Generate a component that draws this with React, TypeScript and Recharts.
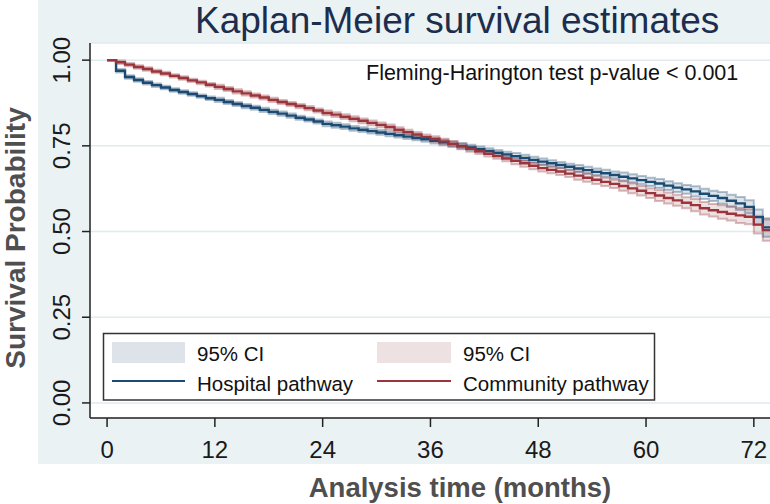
import React from "react";
import {
  ComposedChart,
  Area,
  Line,
  XAxis,
  YAxis,
  CartesianGrid,
} from "recharts";

const FONT = "'Liberation Sans', Arial, Helvetica, sans-serif";

// analysis time in months (last entry = end of follow-up at right edge)
const months = [
  0, 1, 2, 3, 4, 5, 6, 7, 8, 9, 10, 11, 12, 13, 14, 15, 16, 17, 18, 19, 20,
  21, 22, 23, 24, 25, 26, 27, 28, 29, 30, 31, 32, 33, 34, 35, 36, 37, 38, 39,
  40, 41, 42, 43, 44, 45, 46, 47, 48, 49, 50, 51, 52, 53, 54, 55, 56, 57, 58,
  59, 60, 61, 62, 63, 64, 65, 66, 67, 68, 69, 70, 71, 72, 73, 73.8,
];

// KM survival estimates
const hospital = [
  1.0, 0.969, 0.951, 0.942, 0.934, 0.927, 0.92, 0.913, 0.907, 0.901,
  0.895, 0.889, 0.884, 0.878, 0.872, 0.866, 0.861, 0.855, 0.849, 0.844,
  0.838, 0.832, 0.827, 0.821, 0.814, 0.81, 0.806, 0.801, 0.797, 0.793,
  0.789, 0.785, 0.781, 0.777, 0.773, 0.769, 0.765, 0.76, 0.755, 0.75,
  0.745, 0.74, 0.735, 0.73, 0.725, 0.72, 0.715, 0.709, 0.704, 0.699,
  0.694, 0.689, 0.684, 0.679, 0.674, 0.67, 0.665, 0.66, 0.655, 0.65,
  0.645, 0.64, 0.634, 0.628, 0.623, 0.617, 0.61, 0.604, 0.598, 0.59,
  0.582, 0.572, 0.542, 0.512, 0.512,
];

const community = [
  1.0, 0.994, 0.987, 0.98, 0.974, 0.967, 0.961, 0.954, 0.948, 0.941,
  0.935, 0.928, 0.922, 0.916, 0.909, 0.903, 0.897, 0.891, 0.884, 0.878,
  0.872, 0.866, 0.86, 0.853, 0.846, 0.841, 0.835, 0.829, 0.823, 0.817,
  0.811, 0.805, 0.797, 0.79, 0.783, 0.776, 0.77, 0.763, 0.756, 0.748,
  0.741, 0.734, 0.727, 0.72, 0.713, 0.706, 0.699, 0.692, 0.685, 0.68,
  0.675, 0.669, 0.663, 0.657, 0.651, 0.645, 0.639, 0.633, 0.626, 0.619,
  0.612, 0.605, 0.598, 0.591, 0.584, 0.577, 0.568, 0.562, 0.557, 0.552,
  0.547, 0.543, 0.52, 0.504, 0.504,
];

// half-width of the 95% CI bands
const hospitalCI = [
  0.0, 0.005, 0.005, 0.005, 0.005, 0.005, 0.005, 0.005, 0.005, 0.005,
  0.005, 0.005, 0.006, 0.006, 0.006, 0.006, 0.006, 0.006, 0.006, 0.006,
  0.006, 0.006, 0.006, 0.006, 0.007, 0.007, 0.007, 0.007, 0.007, 0.007,
  0.007, 0.007, 0.007, 0.007, 0.007, 0.007, 0.008, 0.008, 0.008, 0.008,
  0.008, 0.008, 0.008, 0.008, 0.008, 0.009, 0.009, 0.009, 0.009, 0.009,
  0.009, 0.009, 0.01, 0.01, 0.01, 0.01, 0.01, 0.012, 0.012, 0.012,
  0.012, 0.013, 0.013, 0.013, 0.013, 0.015, 0.015, 0.015, 0.017, 0.017,
  0.019, 0.019, 0.022, 0.027, 0.027,
];

const communityCI = [
  0.0, 0.005, 0.005, 0.005, 0.005, 0.005, 0.005, 0.005, 0.005, 0.005,
  0.005, 0.005, 0.006, 0.006, 0.006, 0.006, 0.006, 0.006, 0.006, 0.006,
  0.006, 0.006, 0.006, 0.006, 0.007, 0.007, 0.007, 0.007, 0.007, 0.007,
  0.007, 0.007, 0.007, 0.007, 0.007, 0.007, 0.008, 0.008, 0.008, 0.008,
  0.008, 0.008, 0.008, 0.008, 0.008, 0.01, 0.01, 0.01, 0.01, 0.01,
  0.01, 0.01, 0.012, 0.012, 0.012, 0.012, 0.012, 0.014, 0.014, 0.014,
  0.014, 0.016, 0.016, 0.016, 0.016, 0.018, 0.018, 0.018, 0.02, 0.02,
  0.022, 0.022, 0.026, 0.031, 0.031,
];

const xTicks = [0, 12, 24, 36, 48, 60, 72];
const yTicks = [0, 0.25, 0.5, 0.75, 1];

const NAVY = "#1b4a72";
const MAROON = "#9c353b";
const NAVY_BAND = "rgba(26,71,111,0.15)";
const MAROON_BAND = "rgba(144,53,59,0.15)";
const NAVY_EDGE = "rgba(26,71,111,0.33)";
const MAROON_EDGE = "rgba(144,53,59,0.33)";

const rows = months.map((t, i) => ({
  t,
  hosp: hospital[i],
  hospLo: hospital[i] - hospitalCI[i],
  hospHi: hospital[i] + hospitalCI[i],
  hospBand: [hospital[i] - hospitalCI[i], hospital[i] + hospitalCI[i]],
  comm: community[i],
  commLo: community[i] - communityCI[i],
  commHi: community[i] + communityCI[i],
  commBand: [community[i] - communityCI[i], community[i] + communityCI[i]],
}));

function YTick(props: any) {
  const { y, payload } = props;
  return (
    <g>
      <text
        x={70}
        y={y}
        transform={`rotate(-90 70 ${y})`}
        textAnchor="middle"
        fontSize={24}
        fontFamily={FONT}
        fill="#1a1a1a"
      >
        {Number(payload.value).toFixed(2)}
      </text>
    </g>
  );
}

export default function App() {
  return (
    <div
      style={{
        position: "absolute",
        left: 0,
        top: 0,
        width: 770,
        height: 504,
        background: "#ffffff",
        overflow: "hidden",
        fontFamily: FONT,
      }}
    >
      {/* graph region background */}
      <div
        style={{
          position: "absolute",
          left: 38,
          top: 0,
          width: 732,
          height: 464,
          background: "#eaf2f3",
        }}
      />

      <div style={{ position: "absolute", left: 0, top: 0 }}>
        <ComposedChart
          width={770}
          height={504}
          data={rows}
          margin={{ top: 43, right: 0, bottom: 0, left: 38 }}
        >
          <CartesianGrid
            vertical={false}
            stroke="#e0eaef"
            strokeWidth={1.5}
            fill="#ffffff"
          />
          <XAxis
            type="number"
            dataKey="t"
            domain={[-1.9, 73.8]}
            ticks={xTicks}
            interval={0}
            allowDataOverflow
            height={86}
            tickSize={9}
            tickMargin={14}
            tick={{ fontSize: 24, fill: "#1a1a1a", fontFamily: FONT }}
            axisLine={{ stroke: "#222", strokeWidth: 1.5 }}
            tickLine={{ stroke: "#222", strokeWidth: 1.5 }}
          />
          <YAxis
            type="number"
            domain={[-0.044, 1.05]}
            ticks={yTicks}
            interval={0}
            allowDataOverflow
            width={52}
            tickSize={8}
            tick={<YTick />}
            axisLine={{ stroke: "#222", strokeWidth: 1.5 }}
            tickLine={{ stroke: "#222", strokeWidth: 1.5 }}
          />

          <Area
            type="stepAfter"
            dataKey="hospBand"
            fill={NAVY_BAND}
            fillOpacity={1}
            stroke="none"
            dot={false}
            activeDot={false}
            isAnimationActive={false}
          />
          <Area
            type="stepAfter"
            dataKey="commBand"
            fill={MAROON_BAND}
            fillOpacity={1}
            stroke="none"
            dot={false}
            activeDot={false}
            isAnimationActive={false}
          />
          <Line type="stepAfter" dataKey="hospLo" stroke={NAVY_EDGE} strokeWidth={2} dot={false} activeDot={false} isAnimationActive={false} />
          <Line type="stepAfter" dataKey="hospHi" stroke={NAVY_EDGE} strokeWidth={2} dot={false} activeDot={false} isAnimationActive={false} />
          <Line type="stepAfter" dataKey="commLo" stroke={MAROON_EDGE} strokeWidth={2} dot={false} activeDot={false} isAnimationActive={false} />
          <Line type="stepAfter" dataKey="commHi" stroke={MAROON_EDGE} strokeWidth={2} dot={false} activeDot={false} isAnimationActive={false} />
          <Line type="stepAfter" dataKey="hosp" stroke={NAVY} strokeWidth={2.4} dot={false} activeDot={false} isAnimationActive={false} />
          <Line type="stepAfter" dataKey="comm" stroke={MAROON} strokeWidth={2.4} dot={false} activeDot={false} isAnimationActive={false} />
        </ComposedChart>
      </div>

      {/* titles, annotation and legend */}
      <svg
        width={770}
        height={504}
        style={{ position: "absolute", left: 0, top: 0, pointerEvents: "none" }}
        fontFamily={FONT}
      >
        <text x={195} y={33} fontSize={37} fill="#1c2d4e">
          Kaplan-Meier survival estimates
        </text>
        <text x={366} y={80} fontSize={21.5} fill="#111">
          Fleming-Harington test p-value &lt; 0.001
        </text>
        <text
          x={460}
          y={497}
          fontSize={27.5}
          fontWeight="bold"
          fill="#4f4f4f"
          textAnchor="middle"
        >
          Analysis time (months)
        </text>
        <text
          x={25}
          y={238}
          transform="rotate(-90 25 238)"
          fontSize={28}
          fontWeight="bold"
          fill="#4f4f4f"
          textAnchor="middle"
        >
          Survival Probability
        </text>

        <rect x={103.5} y={333.5} width={551} height={66.5} fill="#fff" stroke="#333" strokeWidth={1.5} />
        <rect x={112} y={342} width={73} height={21} fill="#dde3e9" />
        <text x={197} y={361} fontSize={20.5} fill="#111">95% CI</text>
        <line x1={112} x2={185} y1={381} y2={381} stroke={NAVY} strokeWidth={2} />
        <text x={197} y={390.5} fontSize={20.5} fill="#111">Hospital pathway</text>
        <rect x={377} y={342} width={74} height={21} fill="#eee1e2" />
        <text x={463} y={361} fontSize={20.5} fill="#111">95% CI</text>
        <line x1={377} x2={451} y1={381} y2={381} stroke={MAROON} strokeWidth={2} />
        <text x={463} y={390.5} fontSize={20.5} fill="#111">Community pathway</text>
      </svg>
    </div>
  );
}
